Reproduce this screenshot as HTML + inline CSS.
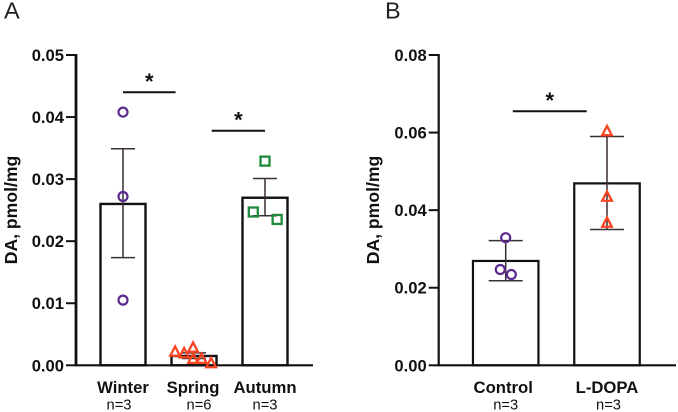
<!DOCTYPE html>
<html><head><meta charset="utf-8"><style>
html,body{margin:0;padding:0;background:#fff}
svg{display:block;font-family:"Liberation Sans",sans-serif}
</style></head><body>
<svg id="fig" width="678" height="412" viewBox="0 0 678 412" xmlns="http://www.w3.org/2000/svg">
<text x="4" y="18.5" font-size="23.5" fill="#222">A</text>
<text x="385" y="18.5" font-size="23.5" fill="#222">B</text>
</svg>
<script>
// Panel A data
const catsA = ['Winter', 'Spring', 'Autumn'];
const nA = ['n=3', 'n=6', 'n=3'];
const meanA = [0.026, 0.0015, 0.027];
const errLowA = [0.01735, 0.0011, 0.0241];
const errHighA = [0.0349, 0.002, 0.0301];
const pointsA = [[0.0408, 0.0272, 0.0105], [0.00215, 0.0019, 0.0028, 0.001, 0.001, 0.0003], [0.0329, 0.0247, 0.0235]];
const jitterA = [[0, 0, 0], [-0.42, -0.22, -0.02, -0.02, 0.17, 0.38], [0, -0.26, 0.27]];
const ticksA = [0, 0.01, 0.02, 0.03, 0.04, 0.05];
const sigValueA = [0.044, 0.0378];
const sigFromA = [0, 1.25];
const sigToA = [0.74, 2];
// Panel B data
const catsB = ['Control', 'L-DOPA'];
const nB = ['n=3', 'n=3'];
const meanB = [0.0269, 0.0469];
const errLowB = [0.0218, 0.035];
const errHighB = [0.03215, 0.059];
const pointsB = [[0.0329, 0.0247, 0.0234], [0.0603, 0.0434, 0.0367]];
const jitterB = [[0, -0.083, 0.086], [0, 0, 0]];
const ticksB = [0, 0.02, 0.04, 0.06, 0.08];
const sigValueB = [0.0655];
const sigFromB = [0.07];
const sigToB = [0.8];

const svg = document.getElementById('fig');
const NS = 'http://www.w3.org/2000/svg';
const BASE = 365.3, TOP = 55;
const INK = '#111';
const ERR = '#3a2f35';
function make(tag, attrs, text) {
  const el = document.createElementNS(NS, tag);
  for (const k in attrs) el.setAttribute(k, attrs[k]);
  if (text !== undefined) el.textContent = text;
  svg.appendChild(el);
  return el;
}
function slug(s) { return s.toLowerCase().replace(/[^a-z0-9]+/g, '-'); }
function drawPanel(p) {
  const y = v => BASE - v / p.yMax * (BASE - TOP);
  const x = i => p.x0 + p.step * i;
  // bars
  p.cats.forEach((c, i) => {
    const bar = make('rect', { x: x(i) - p.barW / 2, y: y(p.mean[i]), width: p.barW, height: BASE - y(p.mean[i]), fill: '#fff', stroke: INK, 'stroke-width': p.barStroke });
    
    
  });
  // error bars
  p.cats.forEach((c, i) => {
    const d = 'M' + x(i) + ' ' + y(p.low[i]) + 'V' + y(p.high[i]) +
      'M' + (x(i) - p.cap) + ' ' + y(p.high[i]) + 'H' + (x(i) + p.cap) +
      'M' + (x(i) - p.cap) + ' ' + y(p.low[i]) + 'H' + (x(i) + p.cap);
    const err = make('path', { d: d, stroke: ERR, 'stroke-width': 1.5, fill: 'none' });
    
    
  });
  // axes
  const yAxis = make('path', { d: 'M' + p.axisX + ' ' + (TOP - 1) + 'V' + (BASE + 1), stroke: INK, 'stroke-width': p.axisStroke, fill: 'none' });
  
  
  const xAxis = make('path', { d: 'M' + p.axisX + ' ' + BASE + 'H' + p.axisEnd, stroke: INK, 'stroke-width': 2.2, fill: 'none' });
  
  
  // ticks
  p.ticks.forEach(t => {
    const tick = make('path', { d: 'M' + (p.axisX - 10) + ' ' + y(t) + 'H' + p.axisX, stroke: INK, 'stroke-width': 2, fill: 'none' });
    
    
    const label = make('text', { x: p.axisX - 12, y: y(t) + 6, 'text-anchor': 'end', 'font-size': 16.6, 'font-weight': 'bold', fill: INK }, t.toFixed(2));
    
    
  });
  // y title
  const title = make('text', { transform: 'translate(' + p.titleX + ' 210) rotate(-90)', 'text-anchor': 'middle', 'font-size': 17.6, 'font-weight': 'bold', fill: INK }, 'DA, pmol/mg');
  
  
  // category labels
  p.cats.forEach((c, i) => {
    const cat = make('text', { x: x(i) + p.catShift[i], y: 393, 'text-anchor': 'middle', 'font-size': 16.7, 'font-weight': 'bold', fill: INK }, c);
    
    
    const n = make('text', { x: x(i) + p.nShift[i], y: 409.5, 'text-anchor': 'middle', 'font-size': 14.7, fill: INK }, p.n[i]);
    
    
  });
  // points
  p.points.forEach((vals, i) => {
    vals.forEach((v, j) => {
      const px = x(i) + p.jitter[i][j] * p.barW, py = y(v);
      const shape = p.shapes[i];
      let m;
      if (shape === 'circle') {
        m = make('circle', { cx: px, cy: py, r: 4.5, fill: 'none', stroke: '#5a2a8e', 'stroke-width': 2.2 });
      } else if (shape === 'square') {
        m = make('rect', { x: px - 4.5, y: py - 4.5, width: 9, height: 9, fill: 'none', stroke: '#1f8a3b', 'stroke-width': 2.3 });
      } else {
        m = make('path', { d: 'M' + px + ' ' + (py - 5.5) + 'L' + (px + 4.8) + ' ' + (py + 3.8) + 'H' + (px - 4.8) + 'Z', fill: 'none', stroke: '#fb4423', 'stroke-width': 2.3 });
      }
      
      
    });
  });
  // significance
  p.sig.forEach((v, k) => {
    const x1 = x(p.sigFrom[k]), x2 = x(p.sigTo[k]);
    const line = make('path', { d: 'M' + x1 + ' ' + y(v) + 'H' + x2, stroke: INK, 'stroke-width': 2, fill: 'none' });
    
    
    const star = make('text', { x: (x1 + x2) / 2, y: y(v) - 3, 'text-anchor': 'middle', 'font-size': 22, 'font-weight': 'bold', fill: INK }, '*');
    
    
  });
}
drawPanel({ id: 'a', yMax: 0.05, x0: 123, step: 71, barW: 45, barStroke: 2.4, cap: 12, axisX: 76, axisEnd: 313, axisStroke: 2.8, titleX: 17,
  cats: catsA, n: nA, mean: meanA, low: errLowA, high: errHighA, points: pointsA, jitter: jitterA, ticks: ticksA,
  sig: sigValueA, sigFrom: sigFromA, sigTo: sigToA, shapes: ['circle', 'triangle', 'square'],
  catShift: [0, -1, 0], nShift: [-4, 5, 0] });
drawPanel({ id: 'b', yMax: 0.08, x0: 505.7, step: 101.3, barW: 65.5, barStroke: 2.2, cap: 17, axisX: 438.7, axisEnd: 676, axisStroke: 2.2, titleX: 379,
  cats: catsB, n: nB, mean: meanB, low: errLowB, high: errHighB, points: pointsB, jitter: jitterB, ticks: ticksB,
  sig: sigValueB, sigFrom: sigFromB, sigTo: sigToB, shapes: ['circle', 'triangle'],
  catShift: [-2.5, 0], nShift: [0, 1.5] });
</script>
</body></html>
